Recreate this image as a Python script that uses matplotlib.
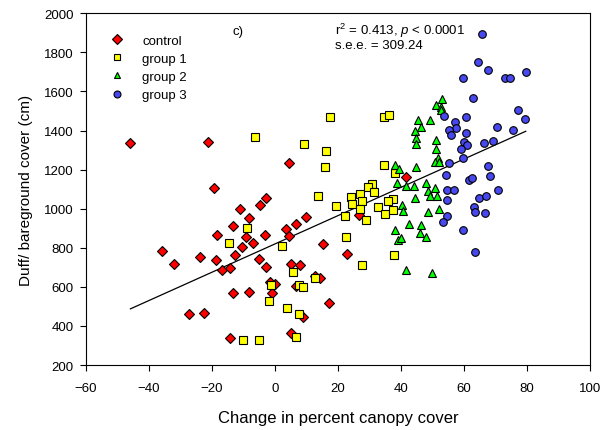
import numpy as np
import matplotlib
matplotlib.use("Agg")
import matplotlib.pyplot as plt
from matplotlib.lines import Line2D

plt.rcParams['font.family'] = ['Liberation Sans', 'DejaVu Sans']
plt.rcParams['mathtext.fontset'] = 'custom'
plt.rcParams['mathtext.rm'] = 'Liberation Sans'
plt.rcParams['mathtext.it'] = 'Liberation Sans:italic'

# control (red diamonds)
ctrl_x = [-45.9, -21.4, -19.5, 4.3, -3.0, -4.9, -11.0, -8.3, -13.4, -18.3, -9.3, -7.0,
          -10.4, -3.1, 3.6, 4.3, 6.7, 9.9, -36.0, -32.0, -23.8, -18.8, -12.7, -16.9,
          -14.2, -5.0, -2.9, 5.0, 7.8, 15.1, 23.0, 12.7, 14.3, -1.6, 0.0, -0.9, -13.3,
          -8.3, 6.6, 17.2, 9.0, -27.4, -22.4, -14.2, 5.0, 41.5, 26.6]
ctrl_y = [1338, 1343, 1107, 1235, 1054, 1018, 996, 951, 912, 866, 856, 825,
          804, 866, 895, 858, 922, 956, 781, 716, 753, 736, 762, 687,
          699, 740, 700, 715, 710, 821, 768, 658, 645, 626, 614, 567, 571,
          573, 605, 519, 447, 460, 464, 338, 362, 1163, 968]

# group 1 (yellow squares)
g1_x = [17.6, -6.4, 9.2, 16.3, 15.9, 13.7, 24.1, 26.9, 30.8, 29.4, 31.3, 24.3,
        27.7, 27.0, 28.9, 19.3, 22.3, 22.4, 27.6, -8.9, 2.2, 5.8, 12.6, -1.3,
        7.5, 8.8, -1.8, 3.8, 7.5, 6.6, -10.1, -5.0, -14.5, 34.6, 36.1, 34.5,
        38.0, 37.4, 35.8, 32.7, 34.9, 37.6, 37.7]
g1_y = [1471, 1366, 1330, 1295, 1214, 1066, 1062, 1073, 1128, 1112, 1088, 1022,
        1037, 997, 943, 1014, 965, 854, 714, 902, 809, 674, 646, 607,
        610, 601, 528, 490, 460, 345, 330, 330, 826, 1470, 1481, 1223,
        1185, 1051, 1040, 1011, 974, 992, 761]

# group 2 (green triangles)
g2_x = [52.9, 51.0, 52.8, 52.6, 45.3, 49.2, 46.2, 44.6, 44.9, 44.9, 51.0, 51.0,
        51.6, 50.7, 52.2, 38.1, 39.4, 44.9, 38.8, 41.6, 44.1, 47.8, 50.7, 48.7,
        49.3, 51.5, 44.4, 40.4, 40.7, 48.7, 52.1, 42.5, 46.3, 46.0, 47.8, 38.2,
        39.0, 40.1, 41.6, 49.9]
g2_y = [1563, 1530, 1522, 1505, 1455, 1455, 1418, 1397, 1361, 1330, 1350, 1307,
        1257, 1237, 1237, 1226, 1204, 1212, 1131, 1118, 1118, 1131, 1104, 1091,
        1066, 1064, 1055, 1021, 986, 983, 997, 920, 914, 878, 853, 890,
        839, 850, 685, 670]

# group 3 (blue circles)
g3_x = [65.7, 64.5, 67.5, 59.7, 73.1, 74.6, 79.6, 62.8, 60.6, 77.0, 79.4, 60.7,
        70.4, 75.4, 60.1, 61.0, 59.0, 66.3, 69.1, 59.8, 67.6, 68.3, 61.6, 62.6,
        70.8, 64.8, 66.9, 63.2, 63.6, 66.6, 59.8, 63.6, 53.7, 57.1, 57.5, 55.3,
        55.8, 55.1, 54.3, 54.5, 56.9, 54.5, 54.7, 53.4]
g3_y = [1892, 1752, 1709, 1669, 1671, 1671, 1698, 1567, 1469, 1506, 1457, 1387,
        1418, 1403, 1340, 1326, 1305, 1335, 1349, 1258, 1221, 1167, 1146, 1155,
        1094, 1054, 1064, 1008, 984, 979, 891, 777, 1475, 1443, 1415, 1403,
        1377, 1234, 1173, 1094, 1094, 1046, 964, 933]

all_x = np.array(ctrl_x + g1_x + g2_x + g3_x)
all_y = np.array(ctrl_y + g1_y + g2_y + g3_y)
slope, icpt = np.polyfit(all_x, all_y, 1)

fig = plt.figure(figsize=(6.07, 4.31), dpi=100)
ax = fig.add_axes([0.1417, 0.1508, 0.972 - 0.1417, 0.9668 - 0.1508])

xs = np.array([all_x.min(), all_x.max()])
ax.plot(xs, icpt + slope * xs, color='black', lw=0.9, zorder=2)

kw = dict(linestyle='none', markeredgecolor='black', markeredgewidth=0.8, zorder=3)
ax.plot(ctrl_x, ctrl_y, marker='D', ms=5.0, markerfacecolor='#FF0000', **kw)
ax.plot(g1_x, g1_y, marker='s', ms=5.5, markerfacecolor='#FFFF00', **kw)
ax.plot(g2_x, g2_y, marker='^', ms=6.0, markerfacecolor='#00FF00', **kw)
ax.plot(g3_x, g3_y, marker='o', ms=5.5, markerfacecolor='#4848F0', **kw)

ax.set_xlim(-60, 100)
ax.set_ylim(200, 2000)
ax.set_xticks(np.arange(-60, 101, 20))
ax.set_yticks(np.arange(200, 2001, 200))
ax.tick_params(direction='out', length=4, width=0.8, labelsize=9.5)
ax.tick_params(axis='x', pad=8)
ax.tick_params(axis='y', pad=5)
for s in ax.spines.values():
    s.set_linewidth(0.8)

ax.set_xlabel('Change in percent canopy cover', fontsize=12, labelpad=12)
ax.set_ylabel('Duff/ bareground cover (cm)', fontsize=11, labelpad=8)

handles = [
    Line2D([], [], marker='D', ms=5, mfc='#FF0000', **kw),
    Line2D([], [], marker='s', ms=5, mfc='#FFFF00', **kw),
    Line2D([], [], marker='^', ms=5, mfc='#00FF00', **kw),
    Line2D([], [], marker='o', ms=5, mfc='#4848F0', **kw),
]
ax.legend(handles, ['control', 'group 1', 'group 2', 'group 3'], loc='upper left',
          bbox_to_anchor=(0.038, 0.955), frameon=False, fontsize=9.5,
          handlelength=1.0, handletextpad=1.4, labelspacing=0.45, borderaxespad=0)

ax.text(0.29, 0.95, 'c)', transform=ax.transAxes, fontsize=9.5, va='center')
ax.text(0.494, 0.953, r'r$^2$ = 0.413, $\it{p}$ < 0.0001', transform=ax.transAxes,
        fontsize=9.5, va='center')
ax.text(0.494, 0.91, 's.e.e. = 309.24', transform=ax.transAxes, fontsize=9.5, va='center')

fig.savefig('out.png', dpi=100)
